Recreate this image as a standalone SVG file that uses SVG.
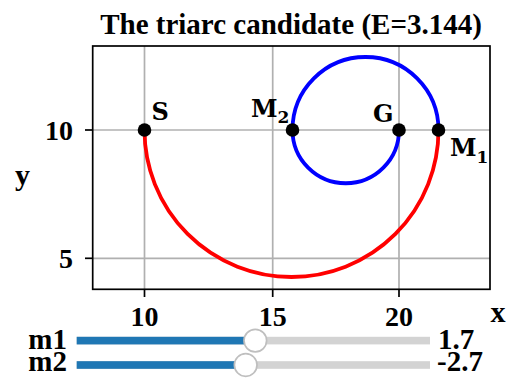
<svg xmlns="http://www.w3.org/2000/svg" width="511" height="380" viewBox="0 0 511 380">
<style>
.t{font-family:"Liberation Serif","Times New Roman",serif;font-weight:bold;fill:#000}
.lbl{font-family:"DejaVu Serif",serif;font-weight:bold;fill:#000;font-size:24px}
.sub{font-size:17px}
.grid{stroke:#b0b0b0;stroke-width:1.7;fill:none}
.tick{stroke:#000;stroke-width:1.7}
.dot{fill:#000}
.track{fill:#d3d3d3}
.fill{fill:#1f77b4}
.handle{fill:#fff;stroke:#bfbfbf;stroke-width:1.7}
</style>
<rect width="511" height="380" fill="#fff"/>
<text class="t" x="291" y="34" font-size="29" text-anchor="middle">The triarc candidate (E=3.144)</text>
<g id="axes">
<line class="grid" x1="144.5" y1="46" x2="144.5" y2="289"/>
<line class="grid" x1="272.7" y1="46" x2="272.7" y2="289"/>
<line class="grid" x1="399" y1="46" x2="399" y2="289"/>
<line class="grid" x1="92.7" y1="130" x2="490" y2="130"/>
<line class="grid" x1="92.7" y1="258.3" x2="490" y2="258.3"/>
<rect x="92.7" y="46" width="397.3" height="243.3" fill="none" stroke="#000" stroke-width="1.7"/>
<line class="tick" x1="85" y1="130" x2="92.7" y2="130"/>
<line class="tick" x1="85" y1="258.3" x2="92.7" y2="258.3"/>
<line class="tick" x1="144.5" y1="289.3" x2="144.5" y2="297"/>
<line class="tick" x1="272.7" y1="289.3" x2="272.7" y2="297"/>
<line class="tick" x1="399" y1="289.3" x2="399" y2="297"/>
<text class="t" x="73" y="139.5" font-size="28" text-anchor="end">10</text>
<text class="t" x="73" y="267.8" font-size="28" text-anchor="end">5</text>
<text class="t" x="144.5" y="326" font-size="28" text-anchor="middle">10</text>
<text class="t" x="272.7" y="326" font-size="28" text-anchor="middle">15</text>
<text class="t" x="399" y="326" font-size="28" text-anchor="middle">20</text>
<text class="t" x="490.5" y="321.5" font-size="30">x</text>
<text class="t" x="15" y="185" font-size="30">y</text>
</g>
<g id="connectors" fill="none" stroke-width="3.8" stroke-linecap="round">
<path id="arc-red" d="M144.5 130 A147 147 0 0 0 438.5 130" stroke="#ff0000"/>
<path id="arc-blue" d="M438.5 130 A73 73 0 0 0 292.5 130 A53.25 53.25 0 0 0 399 130" stroke="#0000ff"/>
</g>
<g id="node-S"><circle class="dot" cx="144.5" cy="130" r="6.8"/><text class="lbl" x="151.5" y="120">S</text></g>
<g id="node-M2"><circle class="dot" cx="292.5" cy="130" r="6.8"/><text class="lbl" x="251" y="116.5">M<tspan class="sub" dy="6.5">2</tspan></text></g>
<g id="node-G"><circle class="dot" cx="399" cy="130" r="6.8"/><text class="lbl" x="373" y="122">G</text></g>
<g id="node-M1"><circle class="dot" cx="438.5" cy="130" r="6.8"/><text class="lbl" x="450" y="156">M<tspan class="sub" dy="6.5">1</tspan></text></g>
<g id="slider-m1">
<text class="t" x="67" y="349" font-size="29" text-anchor="end">m1</text>
<rect class="track" x="76.7" y="336.8" width="353.3" height="7.6"/>
<rect class="fill" x="76.7" y="336.8" width="178.6" height="7.6"/>
<circle class="handle" cx="255.3" cy="340.6" r="11.3"/>
<text class="t" x="438" y="349" font-size="29">1.7</text>
</g>
<g id="slider-m2">
<text class="t" x="67" y="370.5" font-size="29" text-anchor="end">m2</text>
<rect class="track" x="76.7" y="361.2" width="353.3" height="7.6"/>
<rect class="fill" x="76.7" y="361.2" width="169" height="7.6"/>
<circle class="handle" cx="245.7" cy="365" r="11.3"/>
<text class="t" x="437" y="370.5" font-size="29">-2.7</text>
</g>
</svg>
